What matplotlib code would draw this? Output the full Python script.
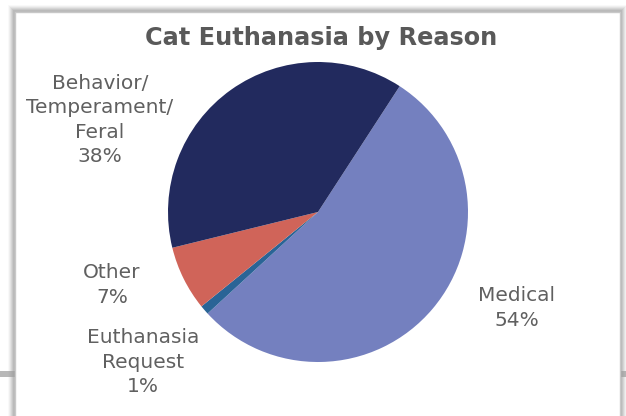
import matplotlib.pyplot as plt
from matplotlib.patches import Rectangle

# slice data, in drawing order (clockwise from the Medical slice)
reasons = ['Medical', 'Euthanasia\nRequest', 'Other', 'Behavior/\nTemperament/\nFeral']
percents = [54, 1, 7, 38]
colors = ['#7480bf', '#2a6496', '#d06459', '#222a5e']

# label centres in pixels (x, y from top)
label_pos = [(517, 308), (143, 362), (112, 285), (100, 120)]

W, H = 626, 416
fig = plt.figure(figsize=(W / 100, H / 100), dpi=100)
fig.patch.set_facecolor('white')

# outer gray band and the drop shadow around the chart box
fig.patches.append(Rectangle((0, (H - 377) / H), 1, 6 / H, transform=fig.transFigure,
                             facecolor='#b8b8b8', edgecolor='none', zorder=0))
for k, a in enumerate([0.06, 0.1, 0.14, 0.2, 0.26, 0.32]):
    pad = 7 - k
    fig.patches.append(Rectangle(((15 - pad) / W, -0.1), (605 + 2 * pad) / W,
                                 (H - 12 + pad) / H + 0.1, transform=fig.transFigure,
                                 facecolor='#a0a0a0', edgecolor='none', alpha=a, zorder=1))
fig.patches.append(Rectangle((15 / W, -0.1), 605 / W, (H - 12) / H + 0.1,
                             transform=fig.transFigure, facecolor='white',
                             edgecolor='#c8c8c8', linewidth=1, zorder=2))

ax = fig.add_axes([(318 - 150) / W, (H - 362) / H, 300 / W, 300 / H])
ax.set_zorder(3)
ax.pie(percents, colors=colors, startangle=57, counterclock=False,
       wedgeprops=dict(linewidth=0))
ax.set_xlim(-1, 1)
ax.set_ylim(-1, 1)
ax.set_aspect('equal')

fig.text(321 / W, 1 - 38 / H, 'Cat Euthanasia by Reason', ha='center', va='center',
         fontsize=17.3, fontweight='bold', color='#595959', family='DejaVu Sans', zorder=4)

for name, p, (x, y) in zip(reasons, percents, label_pos):
    fig.text(x / W, 1 - y / H, f'{name}\n{p}%', ha='center', va='center',
             fontsize=14.5, color='#606060', family='DejaVu Sans', linespacing=1.35,
             zorder=4)

fig.savefig('out.png', dpi=100)
